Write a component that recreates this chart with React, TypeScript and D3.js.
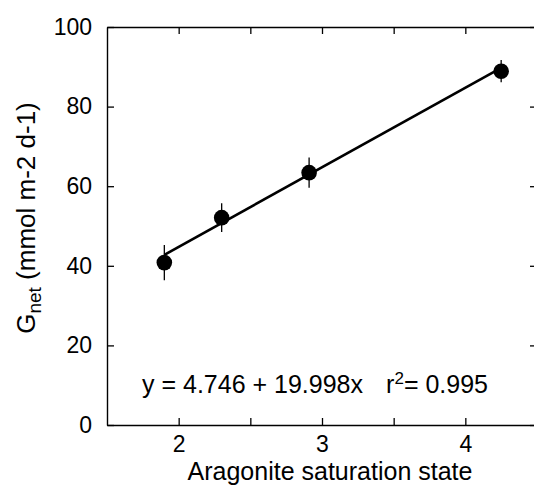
import * as React from "react";
import * as d3 from "d3";

// values
const omegaArag = [1.9, 2.3, 2.91, 4.25];
const gNet = [40.8, 52.1, 63.4, 88.9];
const gNetErr = [4.4, 3.6, 3.8, 2.8];
const fitIntercept = 4.746;
const fitSlope = 19.998;
const fitR2 = 0.995;

const xMajor = [2, 3, 4];
const xMinor = [2.5, 3.5];
const yMajor = [0, 20, 40, 60, 80, 100];

const font = "'Liberation Sans', Arial, Helvetica, sans-serif";
const width = 534;
const height = 486;
const plotLeft = 107;
const plotRight = 537;
const plotTop = 27;
const plotBottom = 425;
const tickLen = 7;

function drawAxes(g: SVGGElement, x: d3.ScaleLinear<number, number>, y: d3.ScaleLinear<number, number>) {
	const sel = d3.select(g);
	sel.selectChildren().remove();

	const styleAxis = (a: d3.Selection<SVGGElement, unknown, null, undefined>, showText: boolean) => {
		a.attr("font-size", null).attr("font-family", null);
		a.select(".domain").attr("stroke", "#000").attr("stroke-width", 1.4);
		a.selectAll(".tick line").attr("stroke", "#000").attr("stroke-width", 1.3);
		if (!showText) a.selectAll(".tick text").remove();
	};

	const xTicks = [...xMajor, ...xMinor];

	sel.append("g")
		.attr("transform", `translate(0,${plotBottom})`)
		.call(d3.axisBottom(x).tickValues(xTicks).tickSize(-tickLen).tickSizeOuter(0).tickPadding(10)
			.tickFormat((d) => (xMajor.includes(+d) ? d3.format("d")(+d) : "")))
		.call((a) => styleAxis(a, true))
		.selectAll(".tick text")
		.attr("font-size", 23)
		.attr("dy", "0.75em");

	sel.append("g")
		.attr("transform", `translate(0,${plotTop})`)
		.call(d3.axisTop(x).tickValues(xTicks).tickSize(-tickLen).tickSizeOuter(0))
		.call((a) => styleAxis(a, false));

	sel.append("g")
		.attr("transform", `translate(${plotLeft},0)`)
		.call(d3.axisLeft(y).tickValues(yMajor).tickSize(-tickLen).tickSizeOuter(0).tickPadding(15))
		.call((a) => styleAxis(a, true))
		.selectAll(".tick text")
		.attr("font-size", 23);

	sel.append("g")
		.attr("transform", `translate(${plotRight},0)`)
		.call(d3.axisRight(y).tickValues(yMajor).tickSize(-tickLen).tickSizeOuter(0))
		.call((a) => styleAxis(a, false));
}

export default function App() {
	const x = React.useMemo(() => d3.scaleLinear([1.5, 4.5], [plotLeft, plotRight]), []);
	const y = React.useMemo(() => d3.scaleLinear([0, 100], [plotBottom, plotTop]), []);

	const axesRef = React.useRef<SVGGElement>(null);
	React.useEffect(() => {
		drawAxes(axesRef.current!, x, y);
	}, [x, y]);

	const xExtent = d3.extent(omegaArag) as [number, number];
	const fitLine = d3
		.line<number>()
		.x((d) => x(d))
		.y((d) => y(fitIntercept + fitSlope * d))(xExtent);

	return (
		<svg
			width={width}
			height={height}
			style={{ position: "absolute", left: 0, top: 0, background: "#fff" }}
			fontFamily={font}
			fill="#000"
		>
			<g ref={axesRef} />
			<path d={fitLine ?? ""} fill="none" stroke="#000" strokeWidth={2.6} />
			{omegaArag.map((v, i) => (
				<g key={i}>
					<line
						x1={x(v)}
						x2={x(v)}
						y1={y(gNet[i] - gNetErr[i])}
						y2={y(gNet[i] + gNetErr[i])}
						stroke="#000"
						strokeWidth={1.3}
					/>
					<circle cx={x(v)} cy={y(gNet[i])} r={7.8} fill="#000" />
				</g>
			))}
			<text x={142} y={393} fontSize={25}>
				{`y = ${fitIntercept} + ${fitSlope}x`}
			</text>
			<text x={488} y={393} fontSize={25} textAnchor="end">
				r<tspan fontSize={17} dy={-9}>2</tspan>
				<tspan dy={9}>= {fitR2}</tspan>
			</text>
			<text x={330} y={480} fontSize={25} textAnchor="middle">
				Aragonite saturation state
			</text>
			<text transform="translate(35,218) rotate(-90)" fontSize={26} textAnchor="middle">
				G<tspan fontSize={19} dy={6}>net</tspan>
				<tspan dy={-6}> (mmol m-2 d-1)</tspan>
			</text>
		</svg>
	);
}
